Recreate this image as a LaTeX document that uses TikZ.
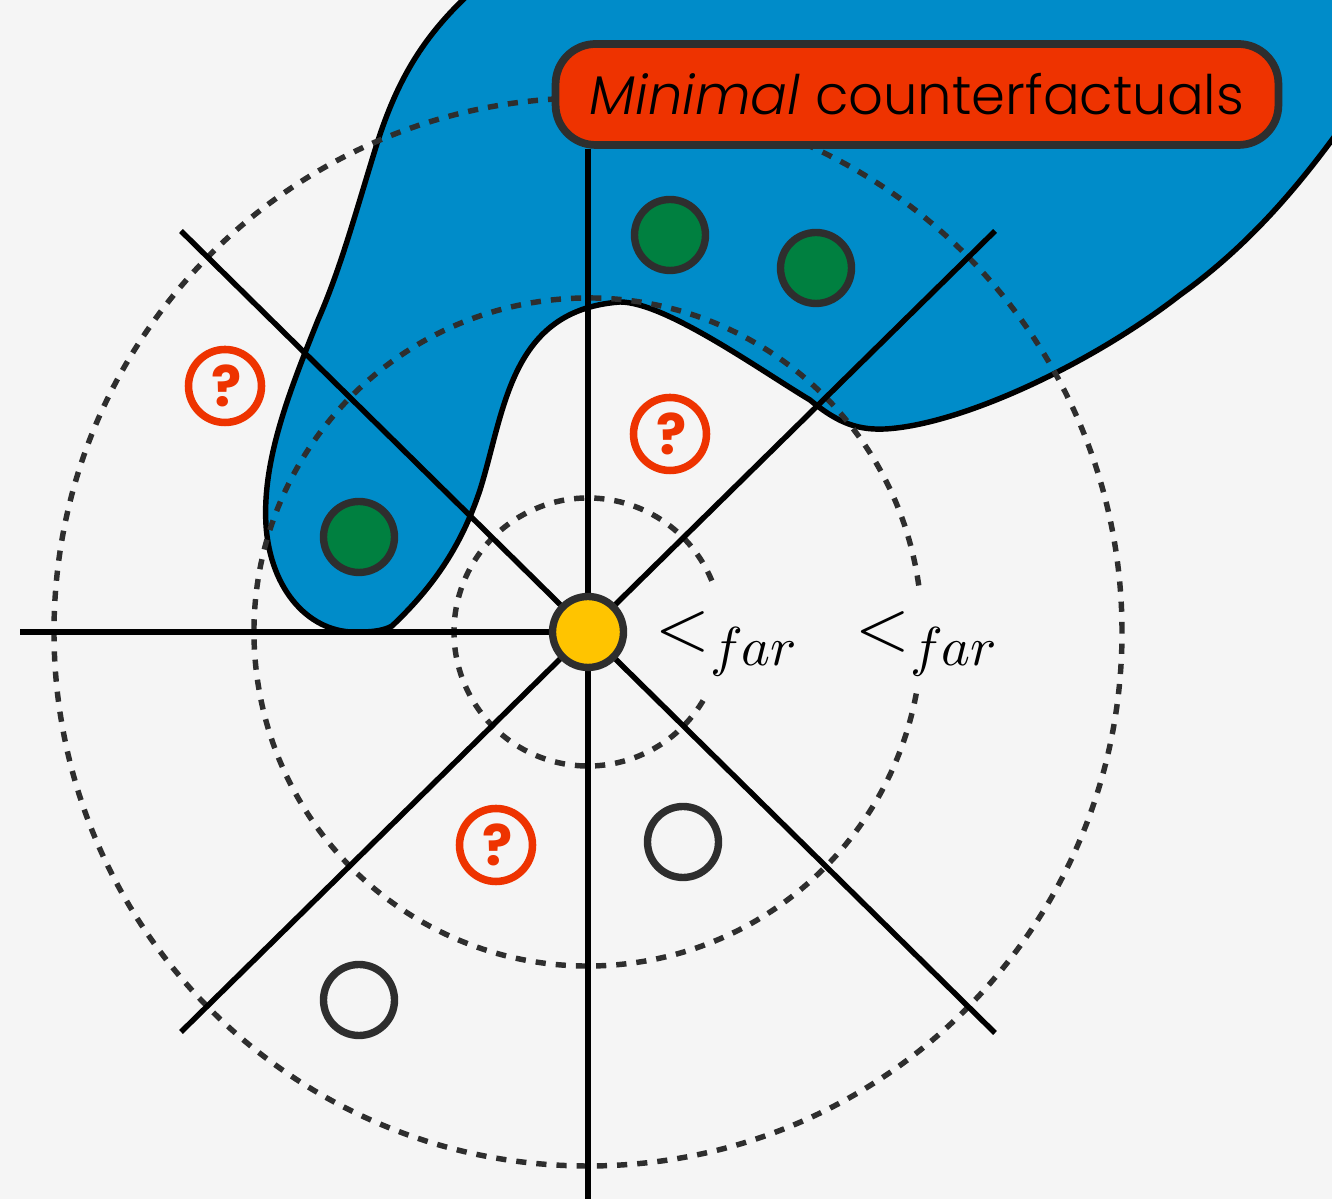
\documentclass[tikz,border=0pt]{standalone}
\usepackage{fontspec}
\setmainfont{Poppins}
\newfontfamily\lightfont{Poppins Light}
\usepackage{amsmath}
\usepackage{graphicx}
\usetikzlibrary{backgrounds}
\definecolor{paper}{HTML}{F5F5F5}
\definecolor{ink}{HTML}{2E2E2E}
\definecolor{region}{HTML}{008CC9}
\definecolor{alert}{HTML}{EE3300}
\definecolor{found}{HTML}{008040}
\definecolor{origin}{HTML}{FFC400}
\newcommand{\askmark}{\kern2pt\raisebox{-1.5pt}{?}}
\newcommand{\farless}{$<$\raisebox{-2.2pt}{\scalebox{0.78}{$f\kern-0.3pt ar$}}}
\tikzset{
  pt/.style     ={circle, draw=ink, line width=4.2pt, minimum size=1.42cm, inner sep=0pt},
  ptgreen/.style={pt, fill=found},
  ptempty/.style={pt},
  ptego/.style  ={pt, fill=origin},
  ptask/.style  ={circle, draw=alert, line width=4.3pt, minimum size=1.46cm, inner sep=0pt,
                  text=alert, font=\bfseries\fontsize{32}{32}\selectfont},
  tagbox/.style ={draw=ink, fill=alert, line width=4.4pt, rounded corners=0.8cm,
                  minimum width=14.46cm, minimum height=2.02cm, inner sep=0pt,
                  font=\lightfont\fontsize{31}{36}\selectfont, text=black},
  ring/.style   ={draw=ink, line width=3.1pt, dash pattern=on 5.8pt off 5.7pt},
  axisline/.style={draw=black, line width=3.1pt},
  blob/.style   ={draw=black, line width=3.1pt, fill=region},
  farlabel/.style={anchor=base west, inner sep=0pt, scale=4, transform shape, font=\normalsize}
}
\begin{document}
\begin{tikzpicture}[x=0.02cm, y=0.02cm]
  \useasboundingbox (0,0) rectangle (1332,1199);
  \clip (0,0) rectangle (1332,1199);

  % points
  \node[ptego]   (ego)   at (588,567) {};
  \node[ptgreen] (cf1)   at (670,964) {};
  \node[ptgreen] (cf2)   at (816,931) {};
  \node[ptgreen] (cf3)   at (359,662) {};
  \node[ptempty] (far1)  at (683,357) {};
  \node[ptempty] (far2)  at (359,199) {};
  \node[ptask]   (ask1)  at (225,813) {\askmark};
  \node[ptask]   (ask2)  at (670,765) {\askmark};
  \node[ptask]   (ask3)  at (496,354) {\askmark};

  \node[tagbox]  (tag)   at (917,1104.5) {\textit{Minimal} counterfactuals};
  \node[farlabel] (far3) at (654,549) {\farless};
  \node[farlabel] (far4) at (854,549) {\farless};

  \coordinate (nw)   at (181,968);
  \coordinate (ne)   at (995,968);
  \coordinate (sw)   at (181,167);
  \coordinate (se)   at (995,166);
  \coordinate (west) at (20,567);
  \coordinate (down) at (588,0);

  \begin{scope}[on background layer]
    \fill[paper] (0,0) rectangle (1332,1199);
    \draw[blob] (468,1204) .. controls (420,1159) and (395,1114) .. (375,1049)
      .. controls (355,984) and (340,929) .. (318,879)
      .. controls (290,809) and (262,739) .. (266,674)
      .. controls (270,609) and (310,564) .. (360,567)
      .. controls (375,567) and (385,569) .. (392,573)
      .. controls (430,609) and (460,649) .. (480,709)
      .. controls (505,789) and (510,889) .. (620,897)
      .. controls (665,897) and (760,829) .. (810,799)
      .. controls (840,774) and (860,769) .. (885,770)
      .. controls (960,774) and (1090,834) .. (1180,904)
      .. controls (1250,954) and (1300,1015) .. (1340,1070)
      -- (1340,1204) -- cycle;

    \draw[ring] (ego) circle (534);
    \draw[ring] ([shift={(8:334)}]ego) arc (8:350:334);
    \draw[ring] ([shift={(22.5:134)}]ego) arc (22.5:331:134);

    \draw[axisline] (ego) -- (west);
    \draw[axisline] (ego) -- (down);
    \draw[axisline] (ego) -- (ego |- tag.south);
    \draw[axisline] (nw) -- (se);
    \draw[axisline] (sw) -- (ne);
  \end{scope}
\end{tikzpicture}
\end{document}
